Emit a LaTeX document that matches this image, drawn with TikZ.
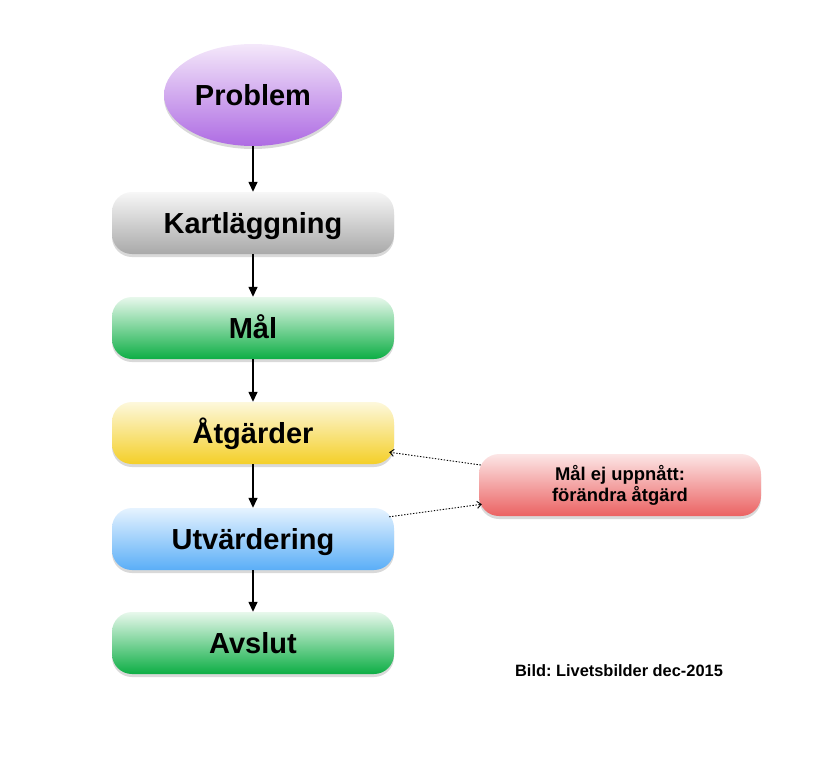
\documentclass[tikz,border=0pt]{standalone}
\usepackage{fontspec}
\setmainfont{Liberation Sans}
\frenchspacing
\usetikzlibrary{shapes.geometric,shadows,arrows.meta}
\definecolor{grayT}{HTML}{F7F7F7}\definecolor{grayB}{HTML}{A9A9A9}
\definecolor{greenT}{HTML}{E8F8EC}\definecolor{greenB}{HTML}{0DAE45}
\definecolor{yelT}{HTML}{FDF8DC}\definecolor{yelB}{HTML}{F4CF28}
\definecolor{bluT}{HTML}{E6F3FF}\definecolor{bluB}{HTML}{5AAEF7}
\definecolor{redT}{HTML}{FCE6E6}\definecolor{redB}{HTML}{EB6262}
\definecolor{purT}{HTML}{F4E8FA}\definecolor{purB}{HTML}{AE6BE3}
\tikzset{
  shad/.style={drop shadow={shadow xshift=0pt,shadow yshift=-3pt,opacity=0.25,fill=black!60}},
  bigtext/.style={font=\fontsize{29}{34}\selectfont\bfseries,text height=20.8pt,text depth=0pt},
  boxshape/.style={rectangle,rounded corners=20pt,minimum width=282pt,minimum height=62pt,
    inner sep=0pt,shad},
  stepbox/.style={boxshape,bigtext},
  flow/.style={line width=1.4pt,-{Triangle[length=10pt,width=9pt]}},
  fb/.style={dash pattern=on 1.4pt off 1.6pt,line width=0.9pt,-{Straight Barb[length=4pt,width=7pt]}}
}
\begin{document}
\begin{tikzpicture}[x=1pt,y=-1pt]
\useasboundingbox (0,0) rectangle (827,768);
\node[ellipse,minimum width=178pt,minimum height=102pt,inner sep=0pt,shad,
  top color=purT,bottom color=purB,bigtext] (prob) at (253,95) {Problem};
\node[stepbox,top color=grayT,bottom color=grayB] (kart) at (253,223) {Kartläggning};
\node[stepbox,top color=greenT,bottom color=greenB] (mal) at (253,328) {Mål};
\node[stepbox,top color=yelT,bottom color=yelB] (atg) at (253,433) {Åtgärder};
\node[stepbox,top color=bluT,bottom color=bluB] (utv) at (253,539) {Utvärdering};
\node[stepbox,top color=greenT,bottom color=greenB] (avs) at (253,643) {Avslut};
\node[boxshape,top color=redT,bottom color=redB,font=\fontsize{18.4}{21}\selectfont\bfseries,
  align=center] (red) at (620,485) {Mål ej uppnått:\\förändra åtgärd};
\node[font=\fontsize{16.4}{19}\selectfont\bfseries] (bild) at (619,671) {Bild: Livetsbilder dec-2015};
\draw[flow] (prob.south) -- (kart.north);
\draw[flow] (kart.south) -- (mal.north);
\draw[flow] (mal.south) -- (atg.north);
\draw[flow] (atg.south) -- (utv.north);
\draw[flow] (utv.south) -- (avs.north);
\draw[fb] ([xshift=2pt,yshift=20pt]red.west) -- ([xshift=-5pt,yshift=12pt]atg.south east);
\draw[fb] ([xshift=-5pt,yshift=-9pt]utv.north east) -- ([xshift=3pt,yshift=12pt]red.south west);
\end{tikzpicture}
\end{document}
